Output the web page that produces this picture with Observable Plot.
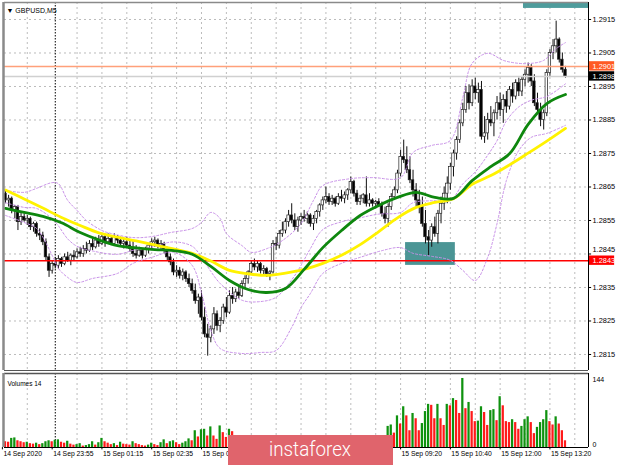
<!DOCTYPE html>
<html><head><meta charset="utf-8">
<script src="https://cdn.jsdelivr.net/npm/d3@7"></script>
<script src="https://cdn.jsdelivr.net/npm/@observablehq/plot@0.6"></script>
<style>
body{margin:0;background:#fff;}
#wrap{position:relative;width:620px;height:465px;overflow:hidden;background:#fff;}
#main{position:absolute;left:0;top:0;}
#vol{position:absolute;left:0;top:372px;}
#wm{position:absolute;left:228px;top:435px;width:165px;height:30px;background:#e0646c;}
#wm svg{display:block;}
</style></head><body>
<div id="wrap"><div id="main"></div><div id="vol"></div>
<div id="wm"><svg width="165" height="30"><text x="82" y="21" text-anchor="middle" fill="#fff" font-family="Roboto, 'Open Sans', sans-serif" font-weight="300" font-size="21" textLength="82" lengthAdjust="spacingAndGlyphs">instaforex</text></svg></div>
</div>
<script>
// ---- data ----
const symbolTitle = "\u25BC GBPUSD,M5";
const priceTicks = [1.2815,1.2825,1.2835,1.2845,1.2855,1.2865,1.2875,1.2885,1.2895,1.2905,1.2915];
const opens = [1.28630,1.28610,1.28615,1.28580,1.28590,1.28545,1.28560,1.28550,1.28555,1.28530,
1.28540,1.28510,1.28505,1.28485,1.28440,1.28400,1.28420,1.28415,1.28435,1.28420,
1.28440,1.28430,1.28445,1.28440,1.28455,1.28450,1.28465,1.28460,1.28480,1.28470,
1.28490,1.28480,1.28500,1.28485,1.28495,1.28480,1.28500,1.28490,1.28480,1.28485,
1.28475,1.28465,1.28450,1.28445,1.28460,1.28445,1.28465,1.28475,1.28485,1.28490,
1.28475,1.28480,1.28460,1.28440,1.28425,1.28395,1.28400,1.28385,1.28395,1.28375,
1.28360,1.28340,1.28310,1.28320,1.28260,1.28210,1.28200,1.28225,1.28270,1.28235,
1.28250,1.28290,1.28275,1.28325,1.28315,1.28335,1.28325,1.28360,1.28375,1.28395,
1.28420,1.28410,1.28420,1.28400,1.28405,1.28390,1.28395,1.28480,1.28475,1.28510,
1.28520,1.28545,1.28565,1.28550,1.28530,1.28550,1.28560,1.28555,1.28565,1.28540,
1.28555,1.28575,1.28595,1.28610,1.28620,1.28605,1.28615,1.28600,1.28620,1.28615,
1.28625,1.28640,1.28665,1.28630,1.28605,1.28615,1.28625,1.28600,1.28610,1.28600,
1.28605,1.28595,1.28570,1.28555,1.28590,1.28620,1.28640,1.28690,1.28740,1.28730,
1.28700,1.28670,1.28640,1.28610,1.28590,1.28540,1.28500,1.28490,1.28530,1.28510,
1.28570,1.28600,1.28630,1.28660,1.28710,1.28750,1.28790,1.28840,1.28880,1.28930,
1.28900,1.28950,1.28930,1.28940,1.28800,1.28810,1.28850,1.28840,1.28870,1.28900,
1.28880,1.28910,1.28890,1.28940,1.28920,1.28960,1.28935,1.28970,1.28985,1.29005,
1.28965,1.28900,1.28880,1.28850,1.28870,1.28990,1.29050,1.29070,1.29090,1.29030,
1.29000];
const highs = [1.28640,1.28625,1.28620,1.28595,1.28595,1.28575,1.28570,1.28565,1.28560,1.28545,
1.28545,1.28525,1.28515,1.28495,1.28450,1.28430,1.28440,1.28445,1.28440,1.28450,
1.28455,1.28450,1.28460,1.28465,1.28470,1.28475,1.28485,1.28490,1.28495,1.28500,
1.28505,1.28510,1.28505,1.28510,1.28505,1.28510,1.28505,1.28500,1.28495,1.28500,
1.28490,1.28490,1.28475,1.28470,1.28465,1.28470,1.28480,1.28495,1.28500,1.28495,
1.28490,1.28485,1.28470,1.28450,1.28435,1.28415,1.28410,1.28405,1.28400,1.28390,
1.28375,1.28360,1.28330,1.28340,1.28290,1.28240,1.28235,1.28290,1.28280,1.28260,
1.28300,1.28320,1.28340,1.28350,1.28345,1.28355,1.28370,1.28385,1.28400,1.28430,
1.28435,1.28430,1.28425,1.28415,1.28410,1.28400,1.28490,1.28500,1.28520,1.28545,
1.28555,1.28580,1.28600,1.28570,1.28560,1.28570,1.28580,1.28575,1.28570,1.28565,
1.28580,1.28600,1.28620,1.28650,1.28630,1.28625,1.28620,1.28630,1.28640,1.28635,
1.28645,1.28680,1.28670,1.28640,1.28625,1.28630,1.28680,1.28630,1.28615,1.28610,
1.28615,1.28605,1.28590,1.28600,1.28630,1.28650,1.28700,1.28760,1.28790,1.28770,
1.28740,1.28700,1.28660,1.28640,1.28620,1.28580,1.28520,1.28540,1.28560,1.28580,
1.28620,1.28650,1.28680,1.28720,1.28760,1.28800,1.28850,1.28900,1.28950,1.28955,
1.28970,1.28975,1.28960,1.28965,1.28860,1.28870,1.28890,1.28880,1.28920,1.28930,
1.28925,1.28935,1.28950,1.28960,1.28970,1.28975,1.28980,1.29000,1.29020,1.29015,
1.28985,1.28930,1.28900,1.28880,1.29000,1.29060,1.29090,1.29145,1.29095,1.29050,
1.29010];
const lows = [1.28600,1.28590,1.28570,1.28555,1.28520,1.28535,1.28545,1.28535,1.28520,1.28515,
1.28500,1.28490,1.28475,1.28430,1.28380,1.28390,1.28405,1.28405,1.28410,1.28415,
1.28425,1.28415,1.28430,1.28435,1.28440,1.28440,1.28450,1.28455,1.28460,1.28465,
1.28470,1.28475,1.28470,1.28480,1.28475,1.28475,1.28480,1.28470,1.28465,1.28470,
1.28455,1.28440,1.28435,1.28440,1.28435,1.28440,1.28450,1.28460,1.28470,1.28465,
1.28460,1.28450,1.28430,1.28415,1.28385,1.28380,1.28375,1.28370,1.28365,1.28350,
1.28330,1.28300,1.28270,1.28250,1.28200,1.28145,1.28185,1.28210,1.28220,1.28215,
1.28240,1.28260,1.28270,1.28300,1.28305,1.28315,1.28320,1.28345,1.28360,1.28390,
1.28400,1.28395,1.28390,1.28385,1.28380,1.28370,1.28390,1.28460,1.28465,1.28500,
1.28510,1.28530,1.28540,1.28520,1.28515,1.28535,1.28545,1.28540,1.28530,1.28520,
1.28540,1.28560,1.28580,1.28600,1.28595,1.28595,1.28590,1.28595,1.28605,1.28600,
1.28610,1.28630,1.28620,1.28595,1.28595,1.28600,1.28590,1.28590,1.28590,1.28585,
1.28590,1.28560,1.28540,1.28530,1.28580,1.28610,1.28630,1.28680,1.28720,1.28690,
1.28660,1.28620,1.28590,1.28570,1.28530,1.28480,1.28445,1.28470,1.28500,1.28480,
1.28540,1.28580,1.28600,1.28640,1.28680,1.28730,1.28780,1.28830,1.28870,1.28880,
1.28890,1.28910,1.28900,1.28790,1.28780,1.28790,1.28830,1.28800,1.28850,1.28860,
1.28840,1.28870,1.28880,1.28900,1.28910,1.28920,1.28920,1.28950,1.28960,1.28950,
1.28890,1.28870,1.28830,1.28820,1.28860,1.28980,1.29030,1.29050,1.29020,1.28990,
1.28975];
const closes = [1.28610,1.28615,1.28580,1.28590,1.28545,1.28560,1.28550,1.28555,1.28530,1.28540,
1.28510,1.28505,1.28485,1.28440,1.28400,1.28420,1.28415,1.28435,1.28420,1.28440,
1.28430,1.28445,1.28440,1.28455,1.28450,1.28465,1.28460,1.28480,1.28470,1.28490,
1.28480,1.28500,1.28485,1.28495,1.28480,1.28500,1.28490,1.28480,1.28485,1.28475,
1.28465,1.28450,1.28445,1.28460,1.28445,1.28465,1.28475,1.28485,1.28490,1.28475,
1.28480,1.28460,1.28440,1.28425,1.28395,1.28400,1.28385,1.28395,1.28375,1.28360,
1.28340,1.28310,1.28320,1.28260,1.28210,1.28200,1.28225,1.28270,1.28235,1.28250,
1.28290,1.28275,1.28325,1.28315,1.28335,1.28325,1.28360,1.28375,1.28395,1.28420,
1.28410,1.28420,1.28400,1.28405,1.28390,1.28395,1.28480,1.28475,1.28510,1.28520,
1.28545,1.28565,1.28550,1.28530,1.28550,1.28560,1.28555,1.28565,1.28540,1.28555,
1.28575,1.28595,1.28610,1.28620,1.28605,1.28615,1.28600,1.28620,1.28615,1.28625,
1.28640,1.28665,1.28630,1.28605,1.28615,1.28625,1.28600,1.28610,1.28600,1.28605,
1.28595,1.28570,1.28555,1.28590,1.28620,1.28640,1.28690,1.28740,1.28730,1.28700,
1.28670,1.28640,1.28610,1.28590,1.28540,1.28500,1.28490,1.28530,1.28510,1.28570,
1.28600,1.28630,1.28660,1.28710,1.28750,1.28790,1.28840,1.28880,1.28930,1.28900,
1.28950,1.28930,1.28940,1.28800,1.28810,1.28850,1.28840,1.28870,1.28900,1.28880,
1.28910,1.28890,1.28940,1.28920,1.28960,1.28935,1.28970,1.28985,1.29005,1.28965,
1.28900,1.28880,1.28850,1.28870,1.28990,1.29050,1.29070,1.29090,1.29030,1.29000,
1.28980];
const volumes = [12,11,19,20,14,12,10,11,8,7,
9,6,8,12,14,12,15,16,11,9,
13,7,5,6,8,3,4,6,12,5,
10,19,12,9,6,8,4,11,7,6,
5,12,8,6,4,3,5,9,6,4,
10,16,8,12,14,10,6,9,12,18,
14,35,22,37,38,24,43,24,17,45,
31,21,38,33,20,18,22,15,19,21,
14,12,9,11,8,10,23,18,20,15,
17,21,19,14,12,16,11,13,15,12,
14,18,20,22,16,13,11,14,12,10,
13,20,17,14,11,12,22,15,11,9,
12,16,21,44,47,30,66,49,85,66,
35,71,60,35,50,75,90,88,60,90,
60,46,90,87,102,98,71,144,81,94,
75,54,55,85,73,46,77,79,56,106,
87,54,52,58,52,38,44,58,64,52,
29,42,52,58,77,54,47,64,49,35,
14];
const maIdx = [0,6,12,18,24,30,36,42,48,54,60,66,72,78,84,90,96,102,108,114,120,126,132,138,144,150,156,162,168,174,180];
const greenMA = [1.28586,1.28574,1.28562,1.28543,1.28514,1.28492,1.28475,1.28468,1.28463,1.28460,1.28449,1.28413,1.28371,1.28344,1.28335,1.28347,1.28404,1.28469,1.28520,1.28565,1.28595,1.28619,1.28634,1.28619,1.28616,1.28669,1.28711,1.28749,1.28837,1.28899,1.28926];
const yellowMA = [1.28641,1.28614,1.28587,1.28559,1.28535,1.28513,1.28500,1.28489,1.28477,1.28465,1.28452,1.28429,1.28401,1.28391,1.28386,1.28393,1.28404,1.28422,1.28446,1.28478,1.28517,1.28558,1.28589,1.28604,1.28615,1.28658,1.28684,1.28716,1.28751,1.28787,1.28825];
const upperIdx = [0,6,10,15,17,20,23,26,31,34,41,47,53,60,63,66,69,71,76,79,84,89,95,99,102,111,118,127,131,137,143,147,150,155,160,165,169,173,177,180];
const upperBand = [1.28640,1.28634,1.28646,1.28663,1.28660,1.28610,1.28580,1.28550,1.28520,1.28511,1.28499,1.28502,1.28514,1.28526,1.28544,1.28574,1.28556,1.28511,1.28475,1.28455,1.28466,1.28490,1.28541,1.28610,1.28654,1.28675,1.28678,1.28678,1.28753,1.28774,1.28789,1.28917,1.29019,1.29049,1.29028,1.29019,1.29019,1.29028,1.29063,1.29081];
const lowerIdx = [0,6,10,15,17,20,23,28,36,41,47,54,60,63,66,69,76,82,87,92,95,98,102,108,114,121,127,131,137,143,147,151,155,158,161,165,169,174,180];
const lowerBand = [1.28565,1.28544,1.28526,1.28446,1.28407,1.28380,1.28365,1.28377,1.28392,1.28422,1.28440,1.28455,1.28416,1.28335,1.28222,1.28168,1.28153,1.28156,1.28162,1.28231,1.28290,1.28332,1.28392,1.28422,1.28440,1.28460,1.28469,1.28452,1.28443,1.28431,1.28401,1.28371,1.28440,1.28541,1.28669,1.28759,1.28798,1.28810,1.28834];
const midIdx = [0,6,10,15,17,20,23,28,36,41,47,54,60,63,66,69,76,82,87,92,95,98,102,108,114,120,127,131,137,143,147,151,155,158,161,165,169,174,180];
const midBand = [1.28603,1.28589,1.28586,1.28555,1.28534,1.28495,1.28473,1.28459,1.28449,1.28461,1.28471,1.28486,1.28473,1.28441,1.28398,1.28362,1.28312,1.28308,1.28321,1.28373,1.28416,1.28466,1.28523,1.28546,1.28558,1.28569,1.28574,1.28603,1.28609,1.28610,1.28659,1.28695,1.28745,1.28788,1.28847,1.28889,1.28909,1.28920,1.28958];
const timeLabelIdx = [-1,15,31,47,63,127,143,159,175];
const timeLabels = ["14 Sep 2020","14 Sep 23:55","15 Sep 01:15","15 Sep 02:35","15 Sep 03:55","15 Sep 09:20","15 Sep 10:40","15 Sep 12:00","15 Sep 13:20"];
const gridIdx = [7,23,31,39,47,55,63,71,79,87,95,103,111,119,127,135,143,151,159,167,175,183];
const daySeparatorIdx = 16;
const resistanceLevel = 1.2901;
const bidLevel = 1.2898;
const supportLevel = 1.2843;
const zoneIdx = [128.6, 144.6];
const zonePrice = [1.28416, 1.28484];
const flagIdx = [166.5, 187.4];
const flagPrice = [1.29183, 1.292007];
const volumeTicks = [144, 0];
const volumeTitle = "Volumes 14";

// ---- layout ----
const X_DOMAIN = [-0.32, 187.4];
const Y_DOMAIN = [1.281022, 1.292007];
const FONT = "'Liberation Sans', Arial, sans-serif";
const GRID = "#bcbcbc";

const bars = d3.range(opens.length).map(i => ({
  i, o: opens[i], h: highs[i], l: lows[i], c: closes[i], v: volumes[i],
  up: i > 0 && volumes[i] > volumes[i - 1]
}));
const badges = [
  {p: resistanceLevel, bg: "#ff5a24"},
  {p: bidLevel, bg: "#000000"},
  {p: supportLevel, bg: "#ff0000"}
];
// a tick label sitting just above a price badge is nudged up (it is half hidden in the reference)
const nearBadge = t => badges.some(b => t > b.p && t - b.p < 0.00025);
const bandLine = (idx, vals) => Plot.line(idx, {x: d => d, y: (d, k) => vals[k], curve: "catmull-rom", stroke: "#c890e8", strokeWidth: 1, strokeDasharray: "2,2"});

const main = Plot.plot({
  width: 620, height: 372,
  marginTop: 2, marginBottom: 2, marginLeft: 4, marginRight: 32,
  x: {domain: X_DOMAIN, axis: null},
  y: {domain: Y_DOMAIN, axis: null},
  style: {fontFamily: FONT, fontSize: "7.4px", background: "white", color: "#000"},
  marks: [
    Plot.ruleY(priceTicks, {stroke: GRID, strokeDasharray: "2,3"}),
    Plot.ruleX(gridIdx, {stroke: GRID, strokeDasharray: "2,3"}),
    Plot.ruleX([daySeparatorIdx], {stroke: "#000", strokeDasharray: "1.5,1.5"}),
    Plot.rect([0], {x1: zoneIdx[0], x2: zoneIdx[1], y1: zonePrice[0], y2: zonePrice[1], fill: "#4b9595"}),
    Plot.rect([0], {x1: flagIdx[0], x2: flagIdx[1], y1: flagPrice[0], y2: flagPrice[1], fill: "#4e9c9c"}),
    Plot.ruleX(bars, {x: "i", y1: "l", y2: "h", stroke: "#111", strokeWidth: 1}),
    Plot.rect(bars, {x1: d => d.i - 0.4, x2: d => d.i + 0.4, y1: "o", y2: "c",
      fill: d => d.c >= d.o ? "#ffffff" : "#000000", stroke: "#222", strokeWidth: 0.7}),
    Plot.ruleY([resistanceLevel], {stroke: "#ffa07a", strokeWidth: 1.5}),
    Plot.ruleY([bidLevel], {stroke: "#d0d0d0", strokeWidth: 1.5}),
    Plot.ruleY([supportLevel], {stroke: "#ff0000", strokeWidth: 1.5}),
    bandLine(upperIdx, upperBand),
    bandLine(midIdx, midBand),
    bandLine(lowerIdx, lowerBand),
    Plot.line(maIdx, {x: d => d, y: (d, k) => yellowMA[k], curve: "catmull-rom", stroke: "#fff200", strokeWidth: 2.8}),
    Plot.line(maIdx, {x: d => d, y: (d, k) => greenMA[k], curve: "catmull-rom", stroke: "#0e870e", strokeWidth: 2.8}),
    Plot.ruleX([X_DOMAIN[1]], {stroke: "#000"}),
    Plot.ruleX([X_DOMAIN[0]], {stroke: "#8a8a8a", strokeWidth: 2.5, dx: -1}),
    Plot.ruleY([Y_DOMAIN[1]], {stroke: "#8a8a8a", strokeWidth: 1.5}),
    Plot.ruleY([Y_DOMAIN[0]], {stroke: "#555"}),
    Plot.ruleY(priceTicks, {x1: X_DOMAIN[1], x2: X_DOMAIN[1] + 1, stroke: "#000"}),
    Plot.text(priceTicks.filter(t => !nearBadge(t)), {x: X_DOMAIN[1], y: d => d, text: d => d.toFixed(4), textAnchor: "start", dx: 4, fill: "#000"}),
    Plot.text(priceTicks.filter(nearBadge), {x: X_DOMAIN[1], y: d => d, text: d => d.toFixed(4), textAnchor: "start", dx: 4, dy: -4, fill: "#000"}),
    Plot.rect(badges, {x1: X_DOMAIN[1] + 0.3, x2: X_DOMAIN[1] + 8.4, y1: d => d.p - 0.00014, y2: d => d.p + 0.00014, fill: "bg"}),
    Plot.text(badges, {x: X_DOMAIN[1], y: "p", text: d => d.p.toFixed(4), textAnchor: "start", dx: 4, fill: "#fff"}),
    Plot.text([symbolTitle], {frameAnchor: "top-left", text: d => d, dx: 2, dy: 6, textAnchor: "start", fontSize: 7, fill: "#000"})
  ]
});
document.getElementById("main").appendChild(main);

const vol = Plot.plot({
  width: 620, height: 93,
  marginTop: 1, marginBottom: 18, marginLeft: 4, marginRight: 32,
  x: {domain: X_DOMAIN, axis: null},
  y: {domain: [0, 154.4], axis: null},
  style: {fontFamily: FONT, fontSize: "7px", background: "white", color: "#000", overflow: "visible"},
  marks: [
    Plot.ruleX(gridIdx, {stroke: GRID, strokeDasharray: "2,3"}),
    Plot.ruleX([daySeparatorIdx], {stroke: "#000", strokeDasharray: "1.5,1.5"}),
    Plot.rect(bars, {x1: d => d.i - 0.36, x2: d => d.i + 0.36, y1: 0, y2: "v", fill: d => d.up ? "#0f920f" : "#ff1a1a"}),
    Plot.ruleY([0], {stroke: "#000"}),
    Plot.ruleY([154.4], {stroke: "#555", strokeWidth: 1.5}),
    Plot.ruleX([X_DOMAIN[1]], {stroke: "#000"}),
    Plot.ruleX([X_DOMAIN[0]], {stroke: "#8a8a8a", strokeWidth: 2.5, dx: -1}),
    Plot.text([volumeTitle], {frameAnchor: "top-left", text: d => d, dx: 3, dy: 8, textAnchor: "start", fontSize: 6.5, fill: "#000"}),
    Plot.text([volumeTicks[0]], {x: X_DOMAIN[1], y: d => d, text: d => String(d), textAnchor: "start", dx: 4, dy: 1, fill: "#000"}),
    Plot.text([volumeTicks[1]], {x: X_DOMAIN[1], y: d => d, text: d => String(d), textAnchor: "start", dx: 4, dy: -3, fill: "#000"}),
    Plot.ruleX(timeLabelIdx, {y1: 0, y2: -5, stroke: "#000"}),
    Plot.text(timeLabels, {x: (d, k) => timeLabelIdx[k], frameAnchor: "bottom", text: d => d, dx: 1, dy: 8, textAnchor: "start", fontSize: 6.8, fill: "#000"})
  ]
});
document.getElementById("vol").appendChild(vol);
</script>
</body></html>
